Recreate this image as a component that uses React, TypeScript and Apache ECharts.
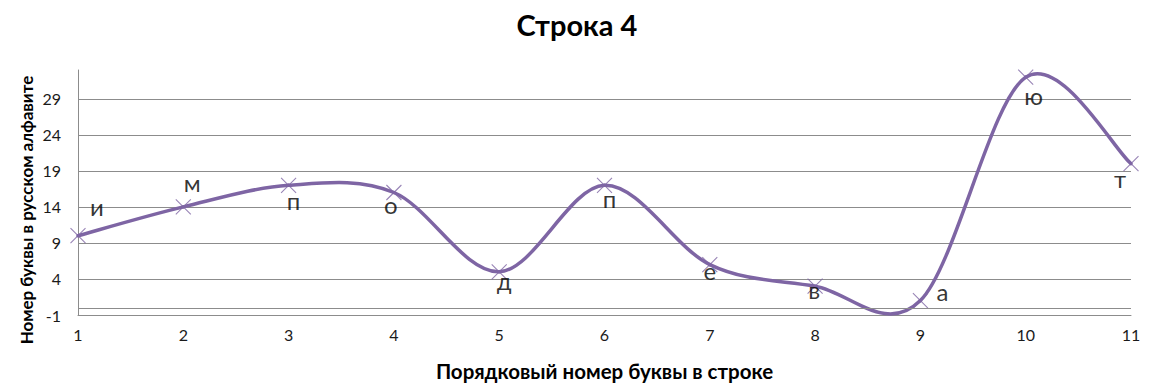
import React, { useEffect, useRef } from "react";
import * as echarts from "echarts";

// Letter positions in the line (x) and their numbers in the Russian alphabet (y)
const positions = [1, 2, 3, 4, 5, 6, 7, 8, 9, 10, 11];
const alphabetNumbers = [10, 14, 17, 16, 5, 17, 6, 3, 1, 32, 20];
const letters = ["и", "м", "п", "о", "д", "п", "е", "в", "а", "ю", "т"];
const yTicks = [-1, 4, 9, 14, 19, 24, 29];

// label placement (pixels relative to the marker)
const labelOffsets: number[][] = [
  [19, -29], [9, -24], [5, 15], [-3, 12], [5, 9], [5, 13],
  [0, 6], [-1, 3], [22, -9], [8, 18], [-11, 15],
];

const FONT = "Lato, 'Open Sans', sans-serif";
const LINE = "#7E65A4";
const GRID = "#8C8C8C";

export default function App() {
  const ref = useRef<HTMLDivElement>(null);
  useEffect(() => {
    document.body.style.margin = "0";
    if (!ref.current) return;
    const chart = echarts.init(ref.current, null, { renderer: "svg" });
    const n = positions.length;
    const pts = positions.map((x, i) => [x, alphabetNumbers[i]]);
    const clampIdx = (k: number) => Math.max(0, Math.min(n - 1, k));
    chart.setOption({
      animation: false,
      title: {
        text: "Строка 4",
        left: 572,
        textAlign: "center",
        top: 5,
        textStyle: { fontFamily: FONT, fontSize: 29, fontWeight: "bold", color: "#000" },
      },
      graphic: [
        {
          type: "text",
          x: 26,
          y: 210,
          rotation: Math.PI / 2,
          style: {
            text: "Номер буквы в русском алфавите",
            fontFamily: FONT,
            fontSize: 17,
            fontWeight: "bold",
            fill: "#000",
            align: "center",
            verticalAlign: "middle",
          },
        },
      ],
      grid: { left: 78, right: 28, top: 70, bottom: 73, containLabel: false, outerBoundsMode: "none" },
      xAxis: {
        type: "value",
        min: 1,
        max: 11,
        interval: 1,
        axisLine: { show: true, onZero: false, lineStyle: { color: GRID, width: 1 } },
        axisTick: { show: false },
        splitLine: { show: false },
        axisLabel: { color: "#1a1a1a", fontSize: 16, fontFamily: FONT, margin: 11 },
        name: "Порядковый номер буквы в строке",
        nameLocation: "middle",
        nameGap: 45,
        nameTextStyle: { fontFamily: FONT, fontSize: 20.5, fontWeight: "bold", color: "#000" },
      },
      yAxis: {
        type: "value",
        min: -1,
        max: 33,
        interval: 5,
        axisLine: { show: true, lineStyle: { color: GRID, width: 1 } },
        axisTick: { show: false },
        splitLine: { show: true, showMaxLine: false, lineStyle: { color: GRID, width: 1 } },
        axisLabel: {
          color: "#1a1a1a",
          fontSize: 16,
          fontFamily: FONT,
          margin: 17,
          customValues: yTicks,
        },
      },
      series: [
        {
          type: "custom",
          data: pts,
          encode: { x: 0, y: 1 },
          clip: false,
          z: 2,
          renderItem: (params: any, api: any) => {
            const i = params.dataIndex;
            if (i >= n - 1) return null;
            const p0 = pts[clampIdx(i - 1)];
            const p1 = pts[i];
            const p2 = pts[i + 1];
            const p3 = pts[clampIdx(i + 2)];
            const c1 = [p1[0] + (p2[0] - p0[0]) / 6, p1[1] + (p2[1] - p0[1]) / 6];
            const c2 = [p2[0] - (p3[0] - p1[0]) / 6, p2[1] - (p3[1] - p1[1]) / 6];
            const a = api.coord(p1);
            const b = api.coord(c1);
            const c = api.coord(c2);
            const d = api.coord(p2);
            return {
              type: "bezierCurve",
              shape: { x1: a[0], y1: a[1], cpx1: b[0], cpy1: b[1], cpx2: c[0], cpy2: c[1], x2: d[0], y2: d[1] },
              style: { stroke: LINE, lineWidth: 3.5, fill: "none", lineCap: "round" },
            };
          },
        },
        {
          type: "scatter",
          z: 3,
          symbol: "path://M0 0L10 10M10 0L0 10",
          symbolSize: 15,
          itemStyle: { color: "transparent", borderColor: LINE, borderWidth: 1.1 },
          data: pts.map((p, i) => ({
            value: p,
            label: { offset: labelOffsets[i] },
          })),
          label: {
            show: true,
            position: "inside",
            formatter: (p: any) => letters[p.dataIndex],
            fontFamily: FONT,
            fontSize: 24,
            color: "#000",
          },
          markLine: {
            silent: true,
            symbol: "none",
            label: { show: false },
            lineStyle: { color: GRID, width: 1, type: "solid" },
            data: [{ yAxis: 0 }],
          },
        },
      ],
    });
    return () => chart.dispose();
  }, []);
  return <div ref={ref} style={{ width: 1159, height: 388 }} />;
}
